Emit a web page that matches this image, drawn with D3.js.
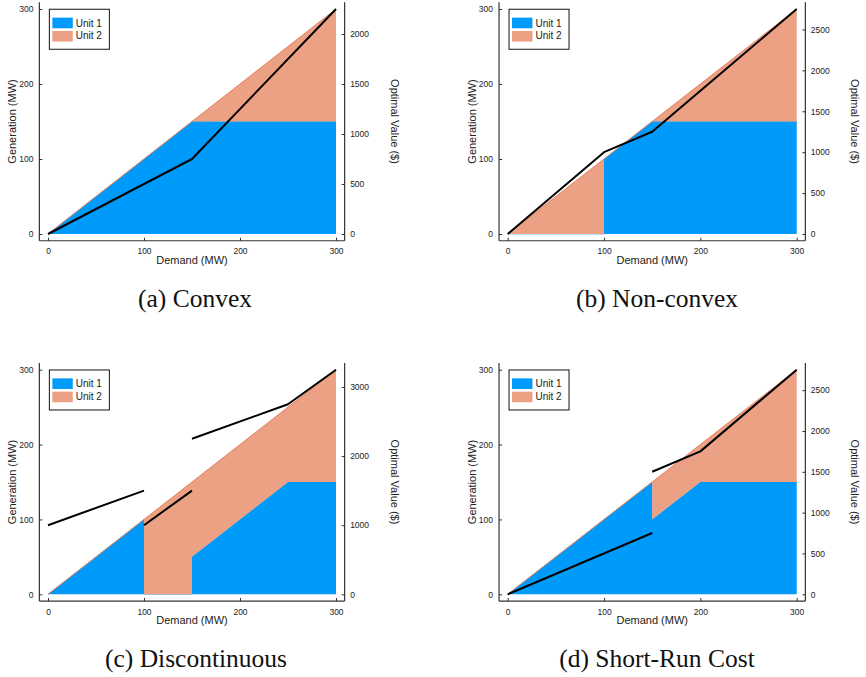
<!DOCTYPE html>
<html>
<head>
<meta charset="utf-8">
<script src="https://cdn.jsdelivr.net/npm/d3@7"></script>
<style>
  body { margin: 0; background: #fff; }
  svg { display: block; }
  .tick text { font-family: "Liberation Sans", Arial, sans-serif; font-size: 8.5px; fill: #222; }
  .tick line { stroke: #333; stroke-width: 1; }
</style>
</head>
<body>
<svg id="fig" width="866" height="677"></svg>
<script>
// Two-unit economic dispatch: stacked generation per unit (left axis)
// and the optimal objective value (right axis) as demand varies.

const seriesNames = ["Unit 1", "Unit 2"];
const genTicks = [0, 100, 200, 300];
const demandTicks = [0, 100, 200, 300];

// (a) Convex
const demandConvex = [0, 150, 300];
const unit1Convex = [0, 150, 150];
const unit2Convex = [0, 0, 150];
const costDemandConvex = [0, 150, 300];
const costConvex = [0, 750, 2250];
const costTicksConvex = [0, 500, 1000, 1500, 2000];

// (b) Non-convex
const demandNonConvex = [0, 100, 100, 150, 300];
const unit1NonConvex = [0, 0, 100, 150, 150];
const unit2NonConvex = [0, 100, 0, 0, 150];
const costDemandNonConvex = [0, 100, 150, 300];
const costNonConvex = [0, 1000, 1250, 2750];
const costTicksNonConvex = [0, 500, 1000, 1500, 2000, 2500];

// (c) Discontinuous (null breaks the value curve)
const demandDiscont = [0, 100, 100, 150, 150, 250, 300];
const unit1Discont = [0, 100, 0, 0, 50, 150, 150];
const unit2Discont = [0, 0, 100, 150, 100, 100, 150];
const costDemandDiscont = [0, 100, 100, 100, 150, 150, 150, 250, 300];
const costDiscont = [1000, 1500, null, 1000, 1500, null, 2250, 2750, 3250];
const costTicksDiscont = [0, 1000, 2000, 3000];

// (d) Short-Run Cost
const demandShortRun = [0, 150, 150, 200, 300];
const unit1ShortRun = [0, 150, 100, 150, 150];
const unit2ShortRun = [0, 0, 50, 50, 150];
const costDemandShortRun = [0, 150, 150, 200, 300];
const costShortRun = [0, 750, null, 1500, 1750, 2750];
const costTicksShortRun = [0, 500, 1000, 1500, 2000, 2500];

const captions = ["(a) Convex", "(b) Non-convex", "(c) Discontinuous", "(d) Short-Run Cost"];

const blue = "#009afa";
const salmon = "#eca084";
const salmonLine = "#e3805c";

const panels = [
  { demand: demandConvex, unit1: unit1Convex, unit2: unit2Convex,
    costDemand: costDemandConvex, cost: costConvex, costTicks: costTicksConvex, costMax: 2250,
    left: 48, right: 336, top: 9, bottom: 234, capX: 195, capY: 307, caption: captions[0],
    yTitleX: 15.5, rTitleX: 391 },
  { demand: demandNonConvex, unit1: unit1NonConvex, unit2: unit2NonConvex,
    costDemand: costDemandNonConvex, cost: costNonConvex, costTicks: costTicksNonConvex, costMax: 2750,
    left: 507.7, right: 796.7, top: 9, bottom: 234, capX: 657, capY: 307, caption: captions[1],
    yTitleX: 475.5, rTitleX: 851 },
  { demand: demandDiscont, unit1: unit1Discont, unit2: unit2Discont,
    costDemand: costDemandDiscont, cost: costDiscont, costTicks: costTicksDiscont, costMax: 3250,
    left: 48, right: 336, top: 369.7, bottom: 594.3, capX: 196, capY: 667, caption: captions[2],
    yTitleX: 15.5, rTitleX: 391 },
  { demand: demandShortRun, unit1: unit1ShortRun, unit2: unit2ShortRun,
    costDemand: costDemandShortRun, cost: costShortRun, costTicks: costTicksShortRun, costMax: 2750,
    left: 507.7, right: 796.7, top: 369.7, bottom: 594.3, capX: 657, capY: 667, caption: captions[3],
    yTitleX: 475.5, rTitleX: 851 }
];
// the short-run value curve has a break at 150 MW
panels[3].costDemand = [0, 150, 150, 150, 200, 300];

const svg = d3.select("#fig");
const sans = "'Liberation Sans', Arial, sans-serif";

function drawPanel(p) {
  const g = svg.append("g");
  const x = d3.scaleLinear().domain([0, 300]).range([p.left, p.right]);
  const y = d3.scaleLinear().domain([0, 300]).range([p.bottom, p.top]);
  const yR = d3.scaleLinear().domain([0, p.costMax]).range([p.bottom, p.top]);

  const padX = (p.right - p.left) * 0.03;
  const padY = (p.bottom - p.top) * 0.03;
  const fx0 = p.left - padX, fx1 = p.right + padX;
  const fy0 = p.bottom + padY, fy1 = p.top - padY;

  const pts = p.demand.map((d, i) => ({ d: d, u1: p.unit1[i], u2: p.unit2[i] }));

  const area1 = d3.area().x(d => x(d.d)).y0(y(0)).y1(d => y(d.u1));
  const area2 = d3.area().x(d => x(d.d)).y0(d => y(d.u1)).y1(d => y(d.u1 + d.u2));

  g.append("path").attr("d", area1(pts)).attr("fill", blue);
  g.append("path").attr("d", d3.line().x(d => x(d.d)).y(d => y(d.u1))(pts))
    .attr("fill", "none").attr("stroke", blue).attr("stroke-width", 1).attr("opacity", 0.6);
  g.append("path").attr("d", area2(pts)).attr("fill", salmon);
  g.append("path").attr("d", d3.line().x(d => x(d.d)).y(d => y(d.u1 + d.u2))(pts))
    .attr("fill", "none").attr("stroke", salmonLine).attr("stroke-width", 1);

  // optimal value curve on the secondary axis
  const cpts = p.costDemand.map((d, i) => ({ d: d, v: p.cost[i] }));
  g.append("path")
    .attr("d", d3.line().defined(d => d.v != null).x(d => x(d.d)).y(d => yR(d.v))(cpts))
    .attr("fill", "none").attr("stroke", "#000").attr("stroke-width", 2)
    .attr("stroke-linejoin", "round");

  // frame: left, bottom and right axis lines
  const frame = g.append("g").attr("stroke", "#333").attr("stroke-width", 1.2).attr("fill", "none");
  frame.append("line").attr("x1", fx0).attr("x2", fx0).attr("y1", fy1).attr("y2", fy0);
  frame.append("line").attr("x1", fx0).attr("x2", fx1).attr("y1", fy0).attr("y2", fy0);
  frame.append("line").attr("x1", fx1).attr("x2", fx1).attr("y1", fy1).attr("y2", fy0);

  const ax = g.append("g").attr("transform", `translate(0,${fy0})`)
    .call(d3.axisBottom(x).tickValues(demandTicks).tickSize(-3).tickPadding(7.5).tickFormat(d3.format("d")));
  ax.select(".domain").remove();

  const ay = g.append("g").attr("transform", `translate(${fx0},0)`)
    .call(d3.axisLeft(y).tickValues(genTicks).tickSize(-3).tickPadding(6).tickFormat(d3.format("d")));
  ay.select(".domain").remove();

  const ar = g.append("g").attr("transform", `translate(${fx1},0)`)
    .call(d3.axisRight(yR).tickValues(p.costTicks).tickSize(-3).tickPadding(5.5).tickFormat(d3.format("d")));
  ar.select(".domain").remove();

  // axis titles
  g.append("text").attr("x", (fx0 + fx1) / 2).attr("y", fy0 + 23)
    .attr("text-anchor", "middle").attr("font-family", sans).attr("font-size", 11).attr("fill", "#222")
    .text("Demand (MW)");
  g.append("text").attr("transform", `translate(${p.yTitleX},${(fy0 + fy1) / 2}) rotate(-90)`)
    .attr("text-anchor", "middle").attr("font-family", sans).attr("font-size", 11).attr("fill", "#222")
    .text("Generation (MW)");
  g.append("text").attr("transform", `translate(${p.rTitleX},${(fy0 + fy1) / 2}) rotate(90)`)
    .attr("text-anchor", "middle").attr("font-family", sans).attr("font-size", 11).attr("fill", "#222")
    .text("Optimal Value ($)");

  // legend
  const lg = g.append("g").attr("transform", `translate(${fx0 + 10},${fy1 + 7})`);
  lg.append("rect").attr("x", 0).attr("y", 0).attr("width", 60).attr("height", 40)
    .attr("fill", "#fff").attr("stroke", "#111").attr("stroke-width", 1);
  [blue, salmon].forEach((c, i) => {
    lg.append("rect").attr("x", 3).attr("y", 8.4 + i * 13.3).attr("width", 20.4).attr("height", 10.6).attr("fill", c);
    lg.append("text").attr("x", 26.4).attr("y", 17.4 + i * 12.6)
      .attr("font-family", sans).attr("font-size", 10).attr("fill", "#222").text(seriesNames[i]);
  });

  // sub-caption
  svg.append("text").attr("x", p.capX).attr("y", p.capY).attr("text-anchor", "middle")
    .attr("font-family", "'Liberation Serif', 'Times New Roman', serif").attr("font-size", 25.5)
    .attr("fill", "#111").text(p.caption);
}

panels.forEach(drawPanel);
</script>
</body>
</html>
